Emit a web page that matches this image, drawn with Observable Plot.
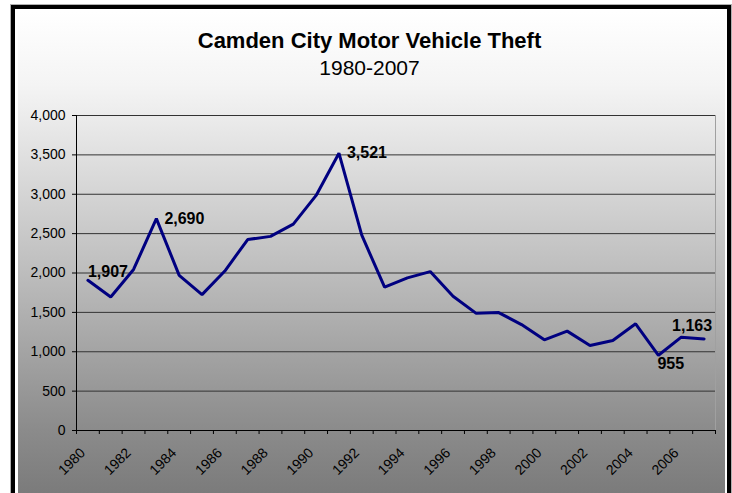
<!DOCTYPE html>
<html>
<head>
<meta charset="utf-8">
<script src="https://cdn.jsdelivr.net/npm/d3@7"></script>
<script src="https://cdn.jsdelivr.net/npm/@observablehq/plot@0.6"></script>
<style>
  html, body { margin: 0; padding: 0; background: #fff; }
  #wrap { position: relative; width: 732px; height: 493px; overflow: hidden; background: #fff; font-family: Arial, "Liberation Sans", sans-serif; }
  .abs { position: absolute; }
  #grad { left: 18px; top: 12px; width: 707px; height: 481px;
    background: linear-gradient(to bottom, #ffffff 0px, #f4f4f4 73px, #ececec 103px, #bdbdbd 260px, #8b8b8b 418px, #7b7b7b 481px); }
  #chart { left: 0; top: 0; }
  .title { left: 0; width: 739px; text-align: center; color: #000; white-space: nowrap; }
</style>
</head>
<body>
<div id="wrap">
  <div class="abs" style="left:10px;top:4px;width:722px;height:1px;background:#b0b0b0"></div>
  <div class="abs" style="left:10px;top:4px;width:1px;height:489px;background:#b0b0b0"></div>
  <div class="abs" style="left:11px;top:5px;width:720px;height:4px;background:#000"></div>
  <div class="abs" style="left:11px;top:5px;width:4px;height:488px;background:#000"></div>
  <div class="abs" style="left:727px;top:5px;width:4px;height:488px;background:#000"></div>
  <div class="abs" style="left:731px;top:4px;width:1px;height:489px;background:#b0b0b0"></div>
  <div id="grad" class="abs"></div>
  <div id="chart" class="abs"></div>
  <div class="abs title" style="top:29.7px;font-size:22px;line-height:22px;font-weight:bold;">Camden City Motor Vehicle Theft</div>
  <div class="abs title" style="top:56.5px;font-size:21px;line-height:21px;">1980-2007</div>
</div>
<script>
const years = [1980,1981,1982,1983,1984,1985,1986,1987,1988,1989,1990,1991,1992,1993,1994,1995,1996,1997,1998,1999,2000,2001,2002,2003,2004,2005,2006,2007];
const thefts = [1907,1695,2045,2690,1970,1725,2025,2425,2465,2620,2985,3521,2480,1820,1938,2018,1705,1490,1497,1345,1152,1262,1080,1142,1355,955,1185,1163];
const yTicks = [0,500,1000,1500,2000,2500,3000,3500,4000];
const xTickLabels = [1980,1982,1984,1986,1988,1990,1992,1994,1996,1998,2000,2002,2004,2006];
const labelRight = [1983, 1991];
const labelFirst = [1980];
const labelBelow = [2005];
const labelLast = [2007];

const data = years.map((year, i) => ({year, value: thefts[i]}));
const pick = ys => data.filter(d => ys.includes(d.year));
const boundaries = [...years.map(y => y - 0.5), years[years.length - 1] + 0.5];
const fmt = d3.format(",");
const labelStyle = {x: "year", y: "value", text: d => fmt(d.value), fontSize: 16, fontWeight: "bold", fill: "#000"};

const chart = Plot.plot({
  width: 732,
  height: 493,
  marginLeft: 76,
  marginRight: 17,
  marginTop: 115,
  marginBottom: 63,
  style: {background: "transparent", fontFamily: "Arial, 'Liberation Sans', sans-serif", color: "#000", overflow: "visible"},
  x: {type: "linear", domain: [boundaries[0], boundaries[boundaries.length - 1]]},
  y: {domain: [0, 4000]},
  marks: [
    Plot.ruleY(yTicks.slice(1), {stroke: "#333", strokeWidth: 1}),
    Plot.ruleX([boundaries[boundaries.length - 1]], {stroke: "#a0a0a0", strokeWidth: 1}),
    Plot.axisY({ticks: yTicks, tickFormat: fmt, tickSize: 4, tickPadding: 7, fontSize: 14, label: null, stroke: "#000"}),
    Plot.axisX({ticks: boundaries, tickFormat: () => "", tickSize: 4, label: null, stroke: "#000"}),
    Plot.axisX({ticks: xTickLabels, tickFormat: d => String(d), tickSize: 0, tickPadding: 20, tickRotate: -45, dx: -5, fontSize: 14, label: null}),
    Plot.ruleX([boundaries[0]], {stroke: "#000", strokeWidth: 1}),
    Plot.ruleY([0], {stroke: "#000", strokeWidth: 1}),
    Plot.line(data, {x: "year", y: "value", stroke: "#000080", strokeWidth: 3, strokeLinejoin: "miter"}),
    Plot.text(pick(labelFirst), {...labelStyle, textAnchor: "start", dx: 0, dy: -8}),
    Plot.text(pick(labelRight), {...labelStyle, textAnchor: "start", dx: 8, dy: 0}),
    Plot.text(pick(labelBelow), {...labelStyle, textAnchor: "start", dx: -1, dy: 9}),
    Plot.text(pick(labelLast), {...labelStyle, textAnchor: "middle", dx: -12, dy: -13})
  ]
});
document.getElementById("chart").appendChild(chart);
</script>
</body>
</html>
